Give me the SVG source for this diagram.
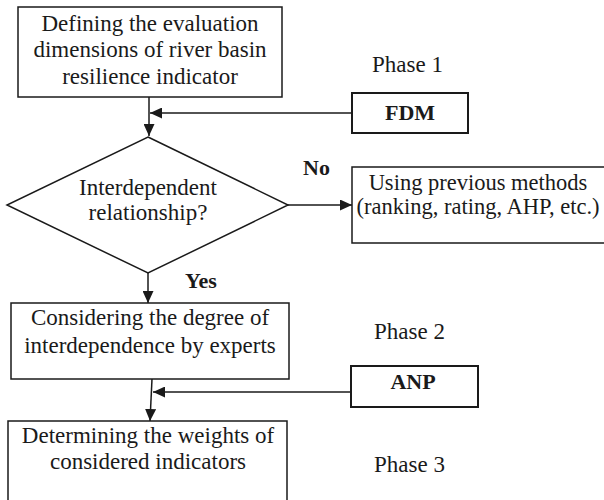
<svg xmlns="http://www.w3.org/2000/svg" width="604" height="500" viewBox="0 0 604 500">
  <style>
    .box { fill: #fff; stroke: #1a1a1a; stroke-width: 1.5; }
    .tool { fill: #fff; stroke: #1a1a1a; stroke-width: 2; }
    .txt { font-family: "Liberation Serif", "Times New Roman", serif; font-size: 23px; fill: #1a1a1a; text-anchor: middle; }
    .bold { font-family: "Liberation Serif", "Times New Roman", serif; font-size: 22px; font-weight: bold; fill: #1a1a1a; }
    .phase { font-family: "Liberation Serif", "Times New Roman", serif; font-size: 23px; fill: #1a1a1a; }
    .link { fill: none; stroke: #1a1a1a; stroke-width: 1.5; marker-end: url(#head); }
  </style>
  <defs>
    <marker id="head" markerUnits="userSpaceOnUse" markerWidth="12" markerHeight="11" refX="12" refY="5.5" orient="auto">
      <path d="M0,0 L12,5.5 L0,11 z" fill="#1a1a1a"/>
    </marker>
  </defs>
  <rect width="604" height="500" fill="#fff"/>

  <!-- connectors -->
  <g id="connectors">
    <path class="link" d="M149,97 L149,136"/>
    <path class="link" d="M352,113 L150,113"/>
    <path class="link" d="M288,205 L352,205"/>
    <path class="link" d="M148,273 L148,303"/>
    <path class="link" d="M351,392 L153,392"/>
    <path class="link" d="M152,379 L150,421"/>
  </g>

  <!-- step 1 -->
  <g id="define">
    <rect class="box" x="18" y="7" width="264" height="90"/>
    <text class="txt" x="150" y="31">Defining the evaluation</text>
    <text class="txt" x="150" y="57">dimensions of river basin</text>
    <text class="txt" x="150" y="84">resilience indicator</text>
  </g>

  <g id="fdm">
    <rect class="tool" x="352" y="93" width="116" height="40"/>
    <text class="bold" x="410" y="120" text-anchor="middle">FDM</text>
  </g>

  <!-- decision -->
  <g id="decision">
    <polygon class="box" points="148,137 288,205 148,273 7,205"/>
    <text class="txt" x="148" y="195">Interdependent</text>
    <text class="txt" x="148" y="220">relationship?</text>
  </g>

  <g id="previous">
    <path class="box" d="M604,167 L352,167 L352,243 L604,243"/>
    <text class="txt" x="478" y="190" style="font-size:22.5px">Using previous methods</text>
    <text class="txt" x="478" y="214" style="font-size:22.5px">(ranking, rating, AHP, etc.)</text>
  </g>

  <g id="degree">
    <rect class="box" x="11" y="303" width="278" height="76"/>
    <text class="txt" x="150" y="325">Considering the degree of</text>
    <text class="txt" x="150" y="353">interdependence by experts</text>
  </g>

  <g id="anp">
    <rect class="tool" x="351" y="366" width="127" height="41"/>
    <text class="bold" x="413" y="389" text-anchor="middle">ANP</text>
  </g>

  <g id="weights">
    <path class="box" d="M8,501 L8,421 L287,421 L287,501"/>
    <text class="txt" x="148" y="443">Determining the weights of</text>
    <text class="txt" x="148" y="469">considered indicators</text>
  </g>

  <!-- branch labels -->
  <g id="labels">
    <text class="bold" x="303" y="175">No</text>
    <text class="bold" x="185" y="288">Yes</text>
  </g>

  <!-- phase captions -->
  <g id="phases">
    <text class="phase" x="372" y="72">Phase 1</text>
    <text class="phase" x="374" y="339">Phase 2</text>
    <text class="phase" x="374" y="472">Phase 3</text>
  </g>
</svg>
